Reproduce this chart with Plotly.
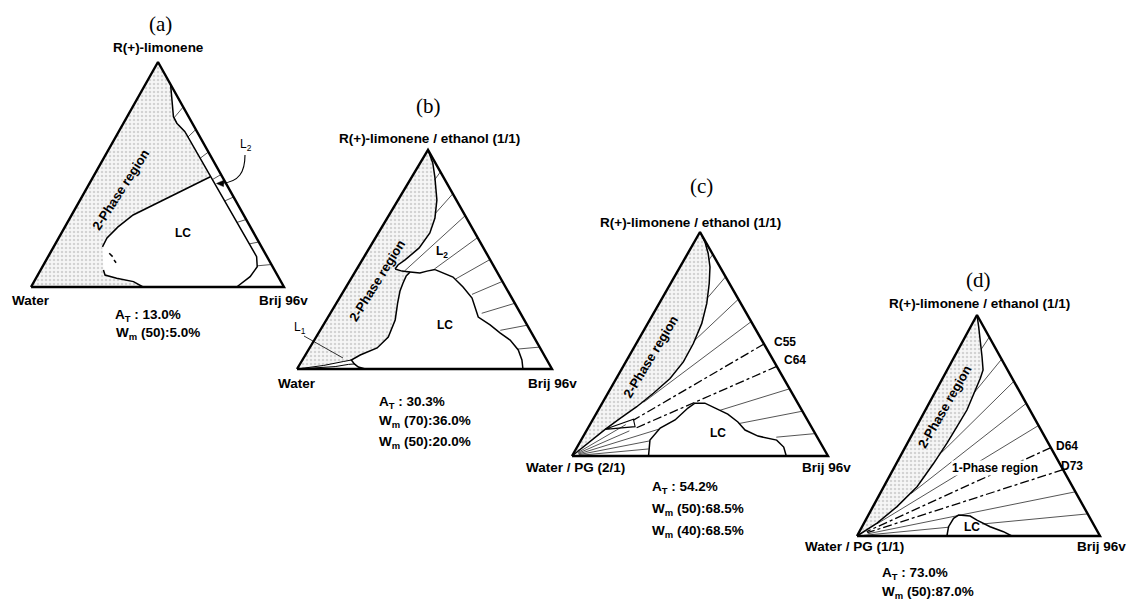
import numpy as np
import plotly.graph_objects as go

FIG_W, FIG_H = 1127, 600
SANS = "Liberation Sans, Arial, sans-serif"
SERIF = "Liberation Serif, Times New Roman, serif"

# Compositions are wt% of the oil phase (top vertex) and of Brij 96v (right vertex);
# the aqueous phase (left vertex) is the remainder.

# ---------- (a) R(+)-limonene / water / Brij 96v ----------
A_BAND_OIL = [90.0, 75.7, 72.8, 69.0, 13.5, 9.0, 4.6, 0.0]
A_BAND_BRIJ = [10.0, 18.3, 21.1, 26.2, 82.4, 84.9, 84.3, 81.3]
A_LC_UP_OIL = [49.0, 37.8, 32.0, 26.7, 21.8, 17.8]
A_LC_UP_BRIJ = [46.3, 32.0, 24.3, 21.0, 19.1, 19.3]
A_LC_DASH_OIL = [[15.0, 13.5], [12.0, 10.8]]
A_LC_DASH_BRIJ = [[23.4, 25.5], [26.8, 28.2]]
A_LC_LOW_OIL = [7.6, 5.3, 3.9, 2.4, 0.0]
A_LC_LOW_BRIJ = [24.8, 26.6, 31.9, 39.3, 44.3]
A_TIE_RATIO = [0.8, 0.7, 0.6, 0.5, 0.4, 0.3, 0.2, 0.1]
A_TIE_WATER = [6.0, 4.8, 4.6, 4.5, 4.4, 4.3, 4.2, 5.9]

# ---------- (b) R(+)-limonene/ethanol (1/1) / water / Brij 96v ----------
B_UP_OIL = [100.0, 94.1, 87.7, 77.2, 68.9, 62.1, 55.3, 49.8, 47.5, 45.7]
B_UP_BRIJ = [0.0, 4.9, 9.0, 15.2, 18.7, 20.2, 19.5, 16.8, 15.2, 15.0]
B_TONGUE_OIL = [45.7, 44.7, 44.3, 43.8, 44.7, 45.4]
B_TONGUE_BRIJ = [15.0, 18.2, 21.6, 25.7, 28.0, 30.8]
B_LOBE_OIL = [44.3, 42.5, 39.3, 35.6, 30.1, 22.4, 14.6, 9.6, 6.4, 4.1, 2.3, 0.9, 0.0]
B_LOBE_BRIJ = [21.6, 21.0, 21.4, 22.1, 24.0, 27.0, 28.3, 26.5, 21.5, 19.2, 21.3, 23.6, 26.8]
B_LC_OIL = [45.4, 42.0, 37.4, 32.4, 23.7, 20.1, 16.4, 13.2, 8.7, 4.1, 0.0]
B_LC_BRIJ = [30.8, 39.6, 45.9, 52.0, 58.9, 65.4, 71.3, 76.8, 82.3, 86.1, 88.6]
B_L1_UP_OIL = [0.0, 1.6, 3.4, 4.1]
B_L1_UP_BRIJ = [0.0, 9.5, 16.4, 19.2]
B_L1_LOW_OIL = [0.0, 0.5, 1.1, 2.1, 2.3]
B_L1_LOW_BRIJ = [0.0, 6.9, 14.4, 19.1, 21.3]
B_DIL_RATIO = [0.9, 0.8, 0.7, 0.6, 0.5, 0.4, 0.3, 0.2, 0.1]
B_DIL_WATER = [4.0, 11.0, 36.0, 23.8, 17.9, 14.8, 15.2, 11.7, 9.3]

# ---------- (c) R(+)-limonene/ethanol (1/1) / water-PG (2/1) / Brij 96v ----------
C_BOUND_OIL = [100.0, 95.5, 90.4, 84.4, 77.0, 68.1, 59.2, 50.2, 42.0, 34.6, 28.0, 22.0, 16.8, 11.9, 0.0]
C_BOUND_BRIJ = [0.0, 4.2, 8.0, 11.7, 15.1, 18.6, 21.1, 22.3, 22.5, 21.0, 17.8, 14.3, 10.4, 7.0, 0.0]
C_LOOP_OIL = [11.9, 16.4, 13.1, 11.9]
C_LOOP_BRIJ = [7.0, 15.8, 18.1, 7.0]
C_LC_OIL = [0.0, 7.1, 12.5, 16.1, 21.4, 23.6, 23.6, 21.4, 18.7, 15.2, 11.6, 8.9, 7.1, 4.0, 0.0]
C_LC_BRIJ = [29.9, 26.9, 28.2, 32.2, 34.6, 36.2, 40.1, 45.2, 51.5, 57.2, 61.8, 68.2, 76.4, 80.7, 83.7]
C_DIL_RATIO = [0.9, 0.8, 0.7, 0.6, 0.5, 0.4, 0.3, 0.2, 0.1]
C_DIL_WATER = [2.7, 11.7, 26.0, 60.0, 68.0, 69.0, 32.0, 27.5, 16.0]
C_DIL_DASHED = [0.5, 0.4]
C_FAN_RATIO = [0.5, 0.4, 0.3, 0.2, 0.1]
C_FAN_WATER = [72.0, 72.0, 60.0, 66.5, 68.5]

# ---------- (d) R(+)-limonene/ethanol (1/1) / water-PG (1/1) / Brij 96v ----------
D_BOUND_OIL = [100.0, 94.7, 81.1, 75.1, 71.4, 64.6, 57.0, 49.5, 42.0, 32.9, 22.3, 13.3, 5.8, 0.0]
D_BOUND_BRIJ = [0.0, 3.3, 11.4, 14.8, 15.5, 16.1, 17.1, 16.7, 16.3, 15.3, 13.7, 9.9, 5.4, 0.0]
D_LC_OIL = [0.0, 4.2, 8.0, 9.5, 9.05, 7.2, 4.2, 1.95, 0.0]
D_LC_BRIJ = [37.0, 35.6, 35.8, 37.1, 42.1, 45.8, 52.7, 59.3, 63.7]
D_DIL_RATIO = [0.9, 0.8, 0.7, 0.6, 0.5, 0.4, 0.3, 0.2, 0.1]
D_DIL_WATER = [6.0, 19.3, 46.0, 68.0, 89.0, 95.0, 95.0, 95.0, 45.7]
D_DIL_DASHED = [0.4, 0.3]
D_FAN_RATIO = [0.1]
D_FAN_WATER = [60.0]
FAN_END = 97.0

# triangle frames on the page: x_left, x_right, y_base, x_apex, y_apex (pixels)
FRAMES = {
    "a": (31, 284, 287, 158, 62),
    "b": (297, 552, 369, 428, 150),
    "c": (572, 828, 456, 700, 232),
    "d": (857, 1100, 536, 977, 315),
}

EDGE = dict(color="black", width=2.4)
BOUND = dict(color="black", width=1.5)
THIN = dict(color="#2a2a2a", width=0.8)
DASHDOT = dict(color="black", width=1.3)
STIPPLE = dict(shape=".", fgcolor="#b0b0b0", bgcolor="#f6f6f6", size=4, solidity=0.3)

fig = go.Figure()
axes = {}


def setup_axes(n, key):
    xl, xr, yb, xa, ya = FRAMES[key]
    tw, th = xr - xl, yb - ya
    ml, mr = min(40, xl), min(40, FIG_W - xr)
    mb, mt = min(40, FIG_H - yb), min(40, ya)
    sfx = "" if n == 1 else str(n)
    common = dict(visible=False, fixedrange=True, showgrid=False, zeroline=False)
    fig.update_layout(**{
        "xaxis" + sfx: dict(domain=[(xl - ml) / FIG_W, (xr + mr) / FIG_W],
                            range=[-ml / tw, 1 + mr / tw], anchor="y" + sfx, **common),
        "yaxis" + sfx: dict(domain=[1 - (yb + mb) / FIG_H, 1 - (ya - mt) / FIG_H],
                            range=[-mb / th, 1 + mt / th], anchor="x" + sfx, **common),
    })
    axes[key] = ("x" + sfx, "y" + sfx, (xa - xl) / tw)


def to_xy(key, oil, brij):
    apx = axes[key][2]
    oil = np.asarray(oil, float) / 100.0
    brij = np.asarray(brij, float) / 100.0
    return brij + apx * oil, oil


def line(key, oil, brij, style, dash="solid"):
    x, y = to_xy(key, oil, brij)
    xa, ya, _ = axes[key]
    fig.add_trace(go.Scatter(x=x, y=y, mode="lines", line=dict(dash=dash, **style),
                             xaxis=xa, yaxis=ya, hoverinfo="skip"))


def stipple(key, oil, brij):
    x, y = to_xy(key, oil, brij)
    xa, ya, _ = axes[key]
    fig.add_trace(go.Scatter(x=x, y=y, mode="lines", fill="toself", line=dict(width=0),
                             fillcolor="#f6f6f6", fillpattern=STIPPLE,
                             xaxis=xa, yaxis=ya, hoverinfo="skip"))


def dilution(key, ratio, w0, w1, style=THIN, dash="solid"):
    w = np.array([w0, w1], float)
    line(key, ratio * (100 - w), (1 - ratio) * (100 - w), style, dash)


def triangle(key):
    line(key, [0, 100, 0, 0], [0, 0, 100, 0], EDGE)


for i, k in enumerate("abcd", start=1):
    setup_axes(i, k)

# ---- (a)
stipple("a", [0, 100] + A_BAND_OIL[:4] + A_LC_UP_OIL + A_LC_LOW_OIL + [0],
        [0, 0] + A_BAND_BRIJ[:4] + A_LC_UP_BRIJ + A_LC_LOW_BRIJ + [0])
for r, w in zip(A_TIE_RATIO, A_TIE_WATER):
    dilution("a", r, 0, w)
line("a", A_BAND_OIL, A_BAND_BRIJ, BOUND)
line("a", A_LC_UP_OIL, A_LC_UP_BRIJ, BOUND)
for o, b in zip(A_LC_DASH_OIL, A_LC_DASH_BRIJ):
    line("a", o, b, BOUND)
line("a", A_LC_LOW_OIL, A_LC_LOW_BRIJ, BOUND)
triangle("a")

# ---- (b)
stipple("b", [0] + B_UP_OIL + B_TONGUE_OIL[1:3] + B_LOBE_OIL[1:10] + B_L1_UP_OIL[::-1][1:],
        [0] + B_UP_BRIJ + B_TONGUE_BRIJ[1:3] + B_LOBE_BRIJ[1:10] + B_L1_UP_BRIJ[::-1][1:])
for r, w in zip(B_DIL_RATIO, B_DIL_WATER):
    dilution("b", r, 0, w)
line("b", B_UP_OIL, B_UP_BRIJ, BOUND)
line("b", B_TONGUE_OIL, B_TONGUE_BRIJ, BOUND)
line("b", B_LOBE_OIL, B_LOBE_BRIJ, BOUND)
line("b", B_LC_OIL, B_LC_BRIJ, BOUND)
line("b", B_L1_UP_OIL, B_L1_UP_BRIJ, dict(color="black", width=1.0))
line("b", B_L1_LOW_OIL, B_L1_LOW_BRIJ, dict(color="black", width=1.0))
triangle("b")

# ---- (c)
stipple("c", [0] + C_BOUND_OIL, [0] + C_BOUND_BRIJ)
for r, w in zip(C_DIL_RATIO, C_DIL_WATER):
    if r in C_DIL_DASHED:
        dilution("c", r, 0, w, DASHDOT, "dashdot")
    else:
        dilution("c", r, 0, w)
for r, w in zip(C_FAN_RATIO, C_FAN_WATER):
    dilution("c", r, w, FAN_END)
line("c", C_BOUND_OIL, C_BOUND_BRIJ, BOUND)
line("c", C_LOOP_OIL, C_LOOP_BRIJ, dict(color="black", width=1.1))
line("c", C_LC_OIL, C_LC_BRIJ, BOUND)
triangle("c")

# ---- (d)
stipple("d", [0] + D_BOUND_OIL, [0] + D_BOUND_BRIJ)
for r, w in zip(D_DIL_RATIO, D_DIL_WATER):
    if r in D_DIL_DASHED:
        dilution("d", r, 0, w, DASHDOT, "dashdot")
    else:
        dilution("d", r, 0, w)
for r, w in zip(D_FAN_RATIO, D_FAN_WATER):
    dilution("d", r, w, FAN_END)
line("d", D_BOUND_OIL, D_BOUND_BRIJ, BOUND)
line("d", D_LC_OIL, D_LC_BRIJ, BOUND)
triangle("d")


# ---- text
def P(x, y):
    return x / FIG_W, 1 - y / FIG_H


annotations = []


def text(s, x, y, size=13.5, bold=True, angle=0, family=SANS, anchor="center", bg=None):
    px, py = P(x, y)
    item = dict(
        text=f"<b>{s}</b>" if bold else s, x=px, y=py, xref="paper", yref="paper",
        showarrow=False, textangle=angle, xanchor=anchor, yanchor="middle",
        font=dict(family=family, size=size, color="black"))
    if bg:
        item.update(bgcolor=bg, borderpad=0)
    annotations.append(item)


OIL = "R(+)-limonene"
MIX = "R(+)-limonene / ethanol (1/1)"

# (a)
text("(a)", 160, 24, 21, False, family=SERIF)
text(OIL, 158, 48)
text("Water", 31, 300)
text("Brij 96v", 283, 300)
text("2-Phase region", 120, 190, 13, angle=-57)
text("LC", 183, 233, 12)
text("L<sub>2</sub>", 246, 145, 12, False)
text("A<sub>T</sub> : 13.0%", 113, 316, anchor="left")
text("W<sub>m</sub> (50):5.0%", 114, 333, anchor="left")

# (b)
text("(b)", 428, 106, 21, False, family=SERIF)
text(MIX, 429, 138)
text("Water", 297, 383)
text("Brij 96v", 552, 383)
text("2-Phase region", 377, 280, 13, angle=-58)
text("L<sub>2</sub>", 442, 252, 12)
text("LC", 445, 325, 12)
text("L<sub>1</sub>", 300, 328, 12, False)
text("A<sub>T</sub> : 30.3%", 377, 402, anchor="left")
text("W<sub>m</sub> (70):36.0%", 377, 421, anchor="left")
text("W<sub>m</sub> (50):20.0%", 377, 442, anchor="left")

# (c)
text("(c)", 701, 186, 21, False, family=SERIF)
text(MIX, 690, 222)
text("Water / PG (2/1)", 575, 467)
text("Brij 96v", 826, 467)
text("2-Phase region", 650, 357, 13, angle=-59)
text("C55", 785, 342, 12)
text("C64", 795, 360, 12)
text("LC", 718, 433, 12)
text("A<sub>T</sub> : 54.2%", 650, 487, anchor="left")
text("W<sub>m</sub> (50):68.5%", 650, 509, anchor="left")
text("W<sub>m</sub> (40):68.5%", 650, 531, anchor="left")

# (d)
text("(d)", 978, 280, 21, False, family=SERIF)
text(MIX, 979, 303)
text("Water / PG (1/1)", 854, 546)
text("Brij 96v", 1101, 546)
text("2-Phase region", 944, 407, 13, angle=-60)
text("1-Phase region", 995, 468, 12, bg="white")
text("D64", 1067, 446, 12)
text("D73", 1072, 466, 12)
text("LC", 972, 527, 12)
text("A<sub>T</sub> : 73.0%", 880, 573, anchor="left")
text("W<sub>m</sub> (50):87.0%", 880, 592, anchor="left")


def path_pt(x, y):
    px, py = P(x, y)
    return f"{px:.5f},{py:.5f}"


shapes = [
    # curved pointer from the L2 label into the narrow L2 band of (a)
    dict(type="path", xref="paper", yref="paper",
         path=f"M {path_pt(245, 155)} C {path_pt(245, 172)} {path_pt(239, 182)} {path_pt(222, 183.3)}",
         line=dict(color="black", width=1.1)),
    dict(type="path", xref="paper", yref="paper",
         path=f"M {path_pt(216.5, 183.5)} L {path_pt(224, 180.2)} L {path_pt(223.5, 186.6)} Z",
         fillcolor="black", line=dict(color="black", width=0.5)),
    # pointer from the L1 label in (b)
    dict(type="line", xref="paper", yref="paper",
         x0=P(304, 336)[0], y0=P(304, 336)[1], x1=P(343, 358)[0], y1=P(343, 358)[1],
         line=dict(color="black", width=0.8)),
]

fig.update_layout(width=FIG_W, height=FIG_H, margin=dict(l=0, r=0, t=0, b=0),
                  paper_bgcolor="white", plot_bgcolor="rgba(0,0,0,0)",
                  showlegend=False, annotations=annotations, shapes=shapes)

fig.write_html("out.html")
